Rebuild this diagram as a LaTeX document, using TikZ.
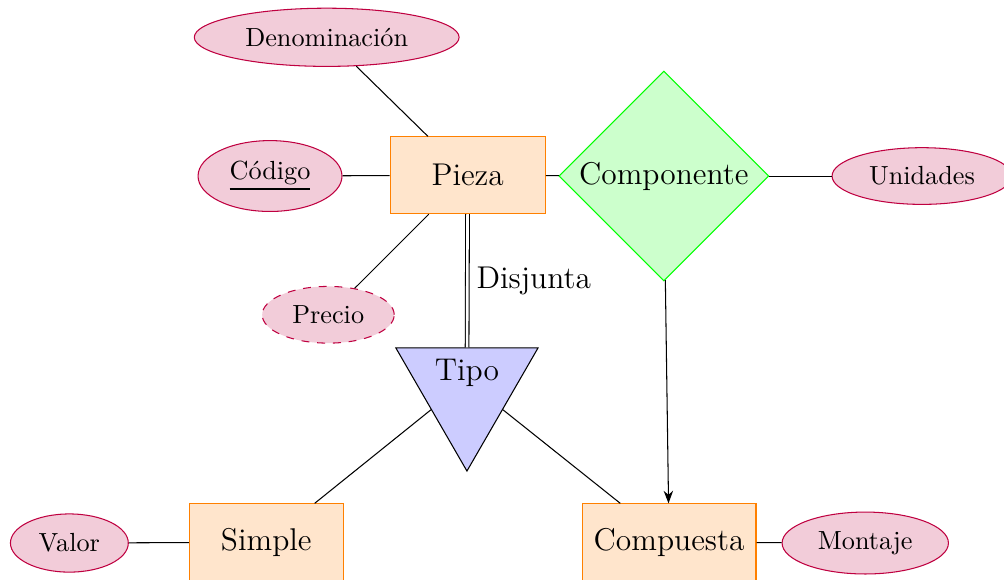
\documentclass[tikz,border=0pt]{standalone}
\usepackage{amsmath,amssymb}
\usepackage{tikz}
\usetikzlibrary{arrows,shapes,arrows.meta}
\tikzset{every node/.style={align=center}}
\tikzset{
  entidad/.style={rectangle,draw=orange,fill=orange!20,minimum height=1.03cm,inner sep=0pt,font=\large},
  atributo/.style={ellipse,draw=purple,fill=purple!20,inner sep=0pt},
  relacion/.style={diamond,aspect=1,draw=green,fill=green!20,minimum size=2.815cm,inner sep=0pt,font=\large},
  jerarquia/.style={regular polygon,regular polygon sides=3,shape border rotate=180,draw,fill=blue!20,minimum size=2.2cm,inner sep=0pt},
}

\begin{document}
\begin{tikzpicture}
        % \draw[help lines,xstep=1,ystep=1] (0,-8) grid (14,0);
        \useasboundingbox (0,0) rectangle (13.46,-7.775);

        % entidades
        \node[entidad,minimum width=2.08cm] (pieza) at (6.27,-2.35) {Pieza};
        \node[entidad,minimum width=2.06cm] (simple) at (3.57,-7.27) {Simple};
        \node[entidad,minimum width=2.33cm] (compuesta) at (8.97,-7.27) {Compuesta};

        % relacion
        \node[relacion] (comp) at (8.90,-2.36) {Componente};

        % jerarquia
        \node[jerarquia] (tipo) at (6.26,-5.215) {};
        \node[font=\large] (tipotxt) at (6.26,-5.0) {Tipo};

        % atributos
        \node[atributo,minimum width=3.55cm,minimum height=0.78cm] (den) at (4.38,-0.50) {Denominación};
        \node[atributo,minimum width=1.93cm,minimum height=0.95cm] (cod) at (3.62,-2.36) {\underline{Código}};
        \node[atributo,dashed,minimum width=1.77cm,minimum height=0.76cm] (precio) at (4.40,-4.22) {Precio};
        \node[atributo,minimum width=2.41cm,minimum height=0.76cm] (unid) at (12.36,-2.36) {Unidades};
        \node[atributo,minimum width=1.58cm,minimum height=0.78cm] (valor) at (0.93,-7.28) {Valor};
        \node[atributo,minimum width=2.23cm,minimum height=0.83cm] (montaje) at (11.60,-7.28) {Montaje};

        % atributos de pieza
        \draw (den) -- (pieza);
        \draw (cod) -- (pieza);
        \draw (precio) -- (pieza);

        % pieza a componente
        \draw (pieza) -- (comp);
        \draw (comp) -- (unid);

        % componente a compuesta
        \draw[-Stealth] (comp) -- (compuesta);

        % jerarquia
        \draw[double,double distance=1pt] (pieza) -- node[right,font=\large] (disj) {Disjunta} (tipo);
        \draw (tipo.side 3) -- (simple);
        \draw (tipo.side 1) -- (compuesta);

        \draw (valor) -- (simple);
        \draw (compuesta) -- (montaje);

    \end{tikzpicture}
\end{document}
